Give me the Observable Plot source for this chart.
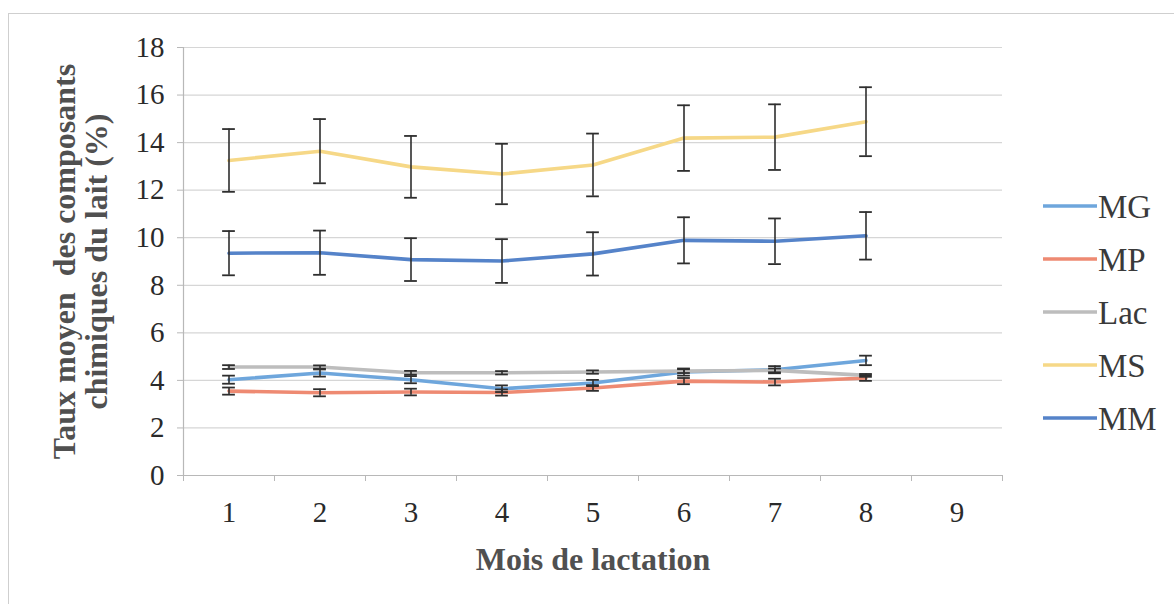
<!DOCTYPE html>
<html>
<head>
<meta charset="utf-8">
<script src="https://cdn.jsdelivr.net/npm/d3@7"></script>
<script src="https://cdn.jsdelivr.net/npm/@observablehq/plot@0.6"></script>
<style>
html,body{margin:0;padding:0;background:#fff;}
#wrap{position:relative;width:1174px;height:604px;overflow:hidden;background:#fff;}
#frame{position:absolute;left:8px;top:13px;width:1300px;height:700px;border-left:1.5px solid #cfcfcf;border-top:1.5px solid #cfcfcf;}
#chart{position:absolute;left:0;top:0;}
#legend{position:absolute;left:0;top:0;}
#wrap svg, #wrap svg text{font-family:'Liberation Serif','Times New Roman',serif !important;}
</style>
</head>
<body>
<div id="wrap"><div id="frame"></div><div id="chart"></div><svg id="legend" width="1174" height="604"></svg></div>
<script>
// ---- data ----
const months = [1, 2, 3, 4, 5, 6, 7, 8];
const axisMonths = [1, 2, 3, 4, 5, 6, 7, 8, 9];
const yTicks = [0, 2, 4, 6, 8, 10, 12, 14, 16, 18];
const seriesNames = ["MG", "MP", "Lac", "MS", "MM"];
const seriesColors = ["#6ea6dc", "#ee8a72", "#bdbdbd", "#f6d887", "#5583c9"];

const MG = [4.03, 4.31, 4.03, 3.65, 3.89, 4.35, 4.45, 4.84];
const MP = [3.55, 3.48, 3.51, 3.49, 3.68, 3.97, 3.93, 4.10];
const Lac = [4.56, 4.56, 4.32, 4.32, 4.35, 4.39, 4.42, 4.21];
const MS = [13.25, 13.64, 12.98, 12.68, 13.06, 14.19, 14.23, 14.88];
const MM = [9.35, 9.37, 9.08, 9.02, 9.32, 9.89, 9.85, 10.08];

const MG_err = [0.17, 0.15, 0.15, 0.14, 0.13, 0.15, 0.15, 0.20];
const MP_err = [0.15, 0.15, 0.14, 0.13, 0.12, 0.13, 0.14, 0.12];
const Lac_err = [0.08, 0.07, 0.08, 0.07, 0.07, 0.08, 0.08, 0.06];
const MS_err = [1.32, 1.35, 1.30, 1.27, 1.32, 1.38, 1.38, 1.45];
const MM_err = [0.93, 0.93, 0.90, 0.92, 0.91, 0.97, 0.96, 1.00];

const xTitle = "Mois de lactation";
const yTitleLines = ["Taux moyen  des composants", "chimiques du lait (%)"];

// ---- table ----
const values = [MG, MP, Lac, MS, MM];
const errs = [MG_err, MP_err, Lac_err, MS_err, MM_err];
const rows = [];
seriesNames.forEach((s, i) => months.forEach((m, j) => rows.push({series: s, month: m, value: values[i][j], err: errs[i][j]})));
const bounds = axisMonths.map(m => m - 0.5).concat([axisMonths[axisMonths.length - 1] + 0.5]);
const capHalf = 0.07;

const font = "'Liberation Serif', 'Times New Roman', serif";

const chart = Plot.plot({
  width: 1174,
  height: 604,
  marginLeft: 183,
  marginRight: 172,
  marginTop: 47,
  marginBottom: 129,
  style: {fontFamily: font, background: "transparent", overflow: "visible"},
  x: {domain: [bounds[0], bounds[bounds.length - 1]]},
  y: {domain: [yTicks[0], yTicks[yTicks.length - 1]]},
  color: {domain: seriesNames, range: seriesColors},
  marks: [
    Plot.gridY(yTicks, {stroke: "#d6d6d6", strokeOpacity: 1, strokeWidth: 1.2}),
    Plot.ruleX([bounds[0]], {stroke: "#b8b8b8", strokeWidth: 1.2}),
    Plot.ruleY([yTicks[0]], {stroke: "#b8b8b8", strokeWidth: 1.2}),
    Plot.axisY(yTicks, {tickSize: 6, tickFormat: () => "", stroke: "#b8b8b8", label: null}),
    Plot.axisX(bounds, {tickSize: 6, tickFormat: () => "", stroke: "#b8b8b8", label: null}),
    Plot.text(yTicks, {x: bounds[0], y: d => d, text: d => String(d), textAnchor: "end", lineAnchor: "middle", dx: -19, fontSize: 29, fill: "#2a2a2a"}),
    Plot.text(axisMonths, {x: d => d, y: yTicks[0], text: d => String(d), textAnchor: "middle", lineAnchor: "middle", dy: 37, fontSize: 29, fill: "#2a2a2a"}),
    Plot.line(rows, {x: "month", y: "value", z: "series", stroke: "series", strokeWidth: 3.6}),
    Plot.ruleX(rows, {x: "month", y1: d => d.value - d.err, y2: d => d.value + d.err, stroke: "#2e2e2e", strokeWidth: 1.6}),
    Plot.ruleY(rows, {y: d => d.value + d.err, x1: d => d.month - capHalf, x2: d => d.month + capHalf, stroke: "#2e2e2e", strokeWidth: 1.8}),
    Plot.ruleY(rows, {y: d => d.value - d.err, x1: d => d.month - capHalf, x2: d => d.month + capHalf, stroke: "#2e2e2e", strokeWidth: 1.8}),
    Plot.text([yTitleLines.join("\n")], {text: d => d, frameAnchor: "left", dx: -103, rotate: -90, textAnchor: "middle", lineAnchor: "middle", lineHeight: 1.0, fontSize: 32, fontWeight: "bold", fill: "#505050"}),
    Plot.text([xTitle], {text: d => d, frameAnchor: "bottom", dy: 84, textAnchor: "middle", lineAnchor: "middle", fontSize: 32, fontWeight: "bold", fill: "#505050"})
  ]
});
document.getElementById("chart").appendChild(chart);

// ---- legend ----
const lg = d3.select("#legend");
const ly = d3.scalePoint().domain(seriesNames).range([206, 418]);
const color = d3.scaleOrdinal().domain(seriesNames).range(seriesColors);
const items = lg.selectAll("g").data(seriesNames).join("g").attr("transform", d => `translate(0,${ly(d)})`);
items.append("line").attr("x1", 1043).attr("x2", 1097).attr("y1", 0).attr("y2", 0)
  .attr("stroke", d => color(d)).attr("stroke-width", 3.6);
items.append("text").attr("x", 1098).attr("y", 0).attr("dy", "0.35em")
  .attr("font-family", font).attr("font-size", 33).attr("fill", "#3a3a3a").text(d => d);
</script>
</body>
</html>
